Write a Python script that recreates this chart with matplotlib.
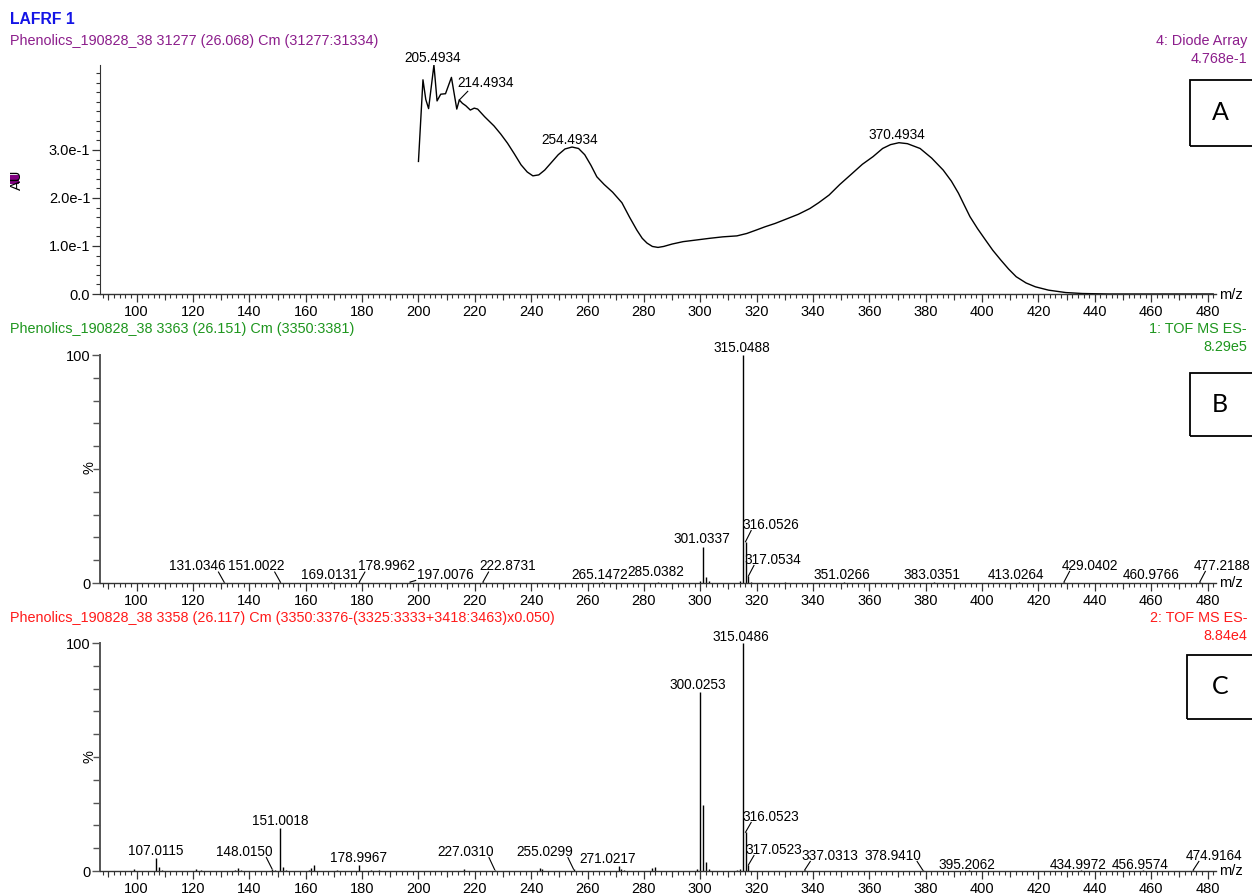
import matplotlib
matplotlib.use("Agg")
import matplotlib.pyplot as plt
from matplotlib.patches import Rectangle
from matplotlib.ticker import MultipleLocator, FixedLocator, FuncFormatter
import numpy as np

plt.rcParams['font.family'] = ['Liberation Sans', 'DejaVu Sans']

# ---------------- data ----------------
# Diode-array UV spectrum (nm, AU)
wavelength_nm = [
    200.0, 201.6, 202.6, 203.6, 205.4934, 206.6, 207.9, 209.6, 211.7, 213.6,
    214.4934, 215.6, 216.8, 218.4, 219.8, 221.0, 223.5, 226.8, 229.2, 231.6,
    234.0, 236.4, 238.6, 240.6, 242.7, 244.8, 247.2, 249.6, 252.0, 254.4934,
    256.8, 259.0, 261.2, 263.3, 265.9, 268.9, 272.2, 274.9, 277.5, 279.4,
    281.1, 283.0, 285.0, 287.0, 290.0, 293.9, 298.0, 303.4, 308.0, 313.0,
    316.5, 319.8, 323.0, 326.6, 330.5, 334.8, 338.9, 342.0, 345.7, 349.5,
    353.9, 357.5, 361.3, 364.7, 367.5, 370.4934, 373.5, 378.0, 382.1, 386.2,
    389.1, 391.6, 393.6, 395.7, 398.4, 401.2, 403.8, 406.6, 409.4, 412.1,
    415.6, 418.9, 423.6, 429.7, 435.6, 445.0, 482.0,
]
absorbance_au = [
    0.276, 0.446, 0.405, 0.386, 0.4768, 0.402, 0.416, 0.417, 0.451, 0.385,
    0.404, 0.397, 0.392, 0.383, 0.387, 0.385, 0.369, 0.350, 0.333, 0.314,
    0.292, 0.269, 0.254, 0.246, 0.248, 0.258, 0.274, 0.290, 0.302, 0.306,
    0.303, 0.290, 0.268, 0.244, 0.228, 0.212, 0.190, 0.160, 0.133, 0.116,
    0.106, 0.099, 0.097, 0.099, 0.104, 0.109, 0.112, 0.116, 0.119, 0.121,
    0.126, 0.133, 0.140, 0.147, 0.156, 0.166, 0.178, 0.190, 0.206, 0.228,
    0.251, 0.270, 0.286, 0.303, 0.311, 0.315, 0.313, 0.303, 0.283, 0.258,
    0.235, 0.210, 0.186, 0.161, 0.136, 0.1125, 0.091, 0.071, 0.052, 0.036,
    0.023, 0.015, 0.008, 0.003, 0.001, 0.0, 0.0,
]

# TOF MS ES- scan 3363 (m/z, relative %)
ms1_mz = [131.0346, 151.0022, 169.0131, 178.9962, 197.0076, 222.8731, 265.1472,
          285.0382, 300.03, 301.0337, 302.03, 303.03, 314.04, 315.0488, 316.0526,
          317.0534, 318.05, 330.0, 351.0266, 383.0351, 413.0264, 429.0402,
          460.9766, 477.2188]
ms1_pct = [0.4, 0.4, 0.3, 0.4, 0.3, 0.3, 0.3,
           0.6, 1.0, 15.6, 2.8, 0.8, 0.8, 100.0, 18.1,
           3.0, 0.5, 0.4, 0.3, 0.3, 0.3, 0.3,
           0.2, 0.3]

# TOF MS ES- scan 3358, background subtracted (m/z, relative %)
ms2_mz = [99.0, 107.0115, 108.0, 109.0, 121.0, 123.0, 135.0, 136.0, 137.0,
          148.0150, 149.0, 151.0018, 152.0, 153.0, 161.0, 162.0, 163.0, 171.0,
          178.9967, 183.0, 186.0, 216.0, 227.0310, 243.0, 244.0, 255.0299,
          271.0217, 272.0, 273.0, 283.0, 284.0, 299.0, 300.0253, 301.03, 302.03,
          303.03, 313.0, 314.0, 315.0486, 316.0523, 317.0523, 337.0313, 378.9410,
          395.2062, 434.9972, 456.9574, 474.9164]
ms2_pct = [1.0, 5.6, 1.9, 0.6, 1.0, 0.6, 0.6, 1.2, 0.6,
           1.0, 0.5, 18.7, 1.7, 0.4, 0.6, 1.5, 2.6, 0.4,
           2.6, 0.4, 0.3, 1.0, 0.6, 1.5, 0.8, 0.8,
           2.2, 0.9, 0.6, 1.2, 1.6, 0.8, 78.6, 28.9, 3.8,
           1.0, 0.5, 0.8, 100.0, 17.0, 2.6, 0.3, 0.3,
           0.3, 0.3, 0.3, 0.3]

x_ticks = list(range(100, 481, 20))

# label placement: (value, label centre x, label baseline y)
uv_label_pos = [(205.4934, 205.2, 0.484), (214.4934, 223.9, 0.430),
                (254.4934, 253.8, 0.313), (370.4934, 369.8, 0.3235)]
ms1_label_pos = [(131.0346, 121.4, 5.6), (151.0022, 142.4, 5.6), (169.0131, 168.3, 1.9),
                 (178.9962, 188.8, 5.6), (197.0076, 209.4, 1.9), (222.8731, 231.8, 5.6),
                 (265.1472, 264.4, 1.9), (285.0382, 284.3, 3.2), (301.0337, 300.6, 17.7),
                 (315.0488, 314.8, 101.4), (316.0526, 325.1, 23.8), (317.0534, 325.8, 8.5),
                 (351.0266, 350.2, 1.9), (383.0351, 382.1, 1.9), (413.0264, 412.0, 1.9),
                 (429.0402, 438.3, 5.9), (460.9766, 460.0, 1.9), (477.2188, 485.2, 5.9)]
ms2_label_pos = [(107.0115, 106.9, 7.1), (148.0150, 138.1, 6.7), (151.0018, 150.9, 20.3),
                 (178.9967, 178.6, 4.1), (227.0310, 216.9, 6.7), (255.0299, 244.9, 6.7),
                 (271.0217, 267.3, 3.6), (300.0253, 299.3, 80.0), (315.0486, 314.5, 101.0),
                 (316.0523, 325.1, 22.1), (317.0523, 326.2, 7.6), (337.0313, 346.0, 5.0),
                 (378.9410, 368.4, 5.0), (395.2062, 394.7, 1.0), (434.9972, 434.1, 1.0),
                 (456.9574, 456.1, 1.0), (474.9164, 482.4, 5.0)]

# ---------------- layout ----------------
W, H = 1252, 896
fig = plt.figure(figsize=(W / 100, H / 100), dpi=100)
fig.patch.set_facecolor('white')


def fx(x):
    return x / W


def fy(y):
    return 1 - y / H


XMIN, XMAX = 87, 483
AX_L, AX_R = 100, 1216
AXC = '#333333'
TICK_FS = 10.5
PEAK_FS = 9.8


def make_axes(top_px, bottom_px):
    return fig.add_axes([fx(AX_L), fy(bottom_px), (AX_R - AX_L) / W,
                         (bottom_px - top_px) / H])


def style_x(ax):
    ax.set_xlim(XMIN, XMAX)
    ax.xaxis.set_major_locator(FixedLocator(x_ticks))
    ax.xaxis.set_minor_locator(MultipleLocator(2))
    ax.tick_params(axis='x', which='major', length=6, width=0.9, direction='out',
                   labelsize=TICK_FS, pad=2, color=AXC)
    ax.tick_params(axis='x', which='minor', length=3, width=0.8, direction='out', color=AXC)
    sec = ax.secondary_xaxis('bottom')
    sec.set_xticks(np.arange(90, 480, 20))
    sec.tick_params(length=4.5, width=0.8, direction='out', labelbottom=False, color=AXC)
    sec.spines['bottom'].set_visible(False)
    for s in ('top', 'right'):
        ax.spines[s].set_visible(False)
    ax.spines['bottom'].set_color(AXC)
    ax.spines['bottom'].set_linewidth(1.0)
    ax.patch.set_alpha(0)


def add_labels(ax, xs, ys, positions, lead_dx, lead_gap, lead_min, fmt):
    for value, lx, ly in positions:
        h = ys[xs.index(value)]
        ax.text(lx, ly, fmt(value), ha='center', va='baseline', fontsize=PEAK_FS,
                color='black', clip_on=False)
        if abs(lx - value) > 4:
            sgn = 1 if lx > value else -1
            y0 = max(h, lead_min)
            ax.plot([value, value + sgn * lead_dx], [y0, ly - lead_gap],
                    color='black', lw=0.8, clip_on=False)


# ---- panel A: UV spectrum ----
axA = make_axes(65, 294)
axA.plot(wavelength_nm, absorbance_au, color='black', lw=1.0)
style_x(axA)
axA.set_ylim(0, 0.4768)
axA.yaxis.set_major_locator(FixedLocator([0.0, 0.1, 0.2, 0.3]))
axA.yaxis.set_minor_locator(MultipleLocator(0.02))
axA.yaxis.set_major_formatter(FuncFormatter(
    lambda v, p: '0.0' if v == 0 else f'{v * 10:.1f}e-1'))
axA.tick_params(axis='y', which='major', length=6, width=0.9, labelsize=TICK_FS,
                pad=1, color=AXC)
axA.tick_params(axis='y', which='minor', length=3, width=0.8, color=AXC)
axA.spines['left'].set_color(AXC)
add_labels(axA, wavelength_nm, absorbance_au, uv_label_pos, 3.0, 0.008, 0.0,
           lambda v: f'{v:.4f}')


# ---- panels B and C: mass spectra ----
def ms_panel(top_px, bottom_px, mz, pct, label_pos):
    ax = make_axes(top_px, bottom_px)
    ax.vlines(mz, 0, pct, color='black', lw=1.0)
    style_x(ax)
    ax.set_ylim(0, 100)
    ax.yaxis.set_major_locator(FixedLocator([0, 100]))
    ax.yaxis.set_minor_locator(MultipleLocator(10))
    ax.tick_params(axis='y', which='major', length=6, width=1.0, labelsize=TICK_FS,
                   pad=1, color='#555555')
    ax.tick_params(axis='y', which='minor', length=5, width=1.0, color='#555555')
    ax.spines['left'].set_color('#555555')
    ax.spines['left'].set_linewidth(1.4)
    add_labels(ax, mz, pct, label_pos, 2.0, 0.8, 0.4, lambda v: f'{v:.4f}')
    return ax


axB = ms_panel(355, 583, ms1_mz, ms1_pct, ms1_label_pos)
axC = ms_panel(643, 871, ms2_mz, ms2_pct, ms2_label_pos)

# ---------------- headers and annotations ----------------
PURPLE, GREEN, RED, BLUE = '#8C1E8C', '#1E961E', '#FF1A1A', '#1414E6'
TITLE_FS = 10.4

fig.text(fx(10), fy(19), 'LAFRF 1', color=BLUE, fontsize=11.3, fontweight='bold',
         ha='left', va='center')
headers = [
    (41, 'Phenolics_190828_38 31277 (26.068) Cm (31277:31334)', '4: Diode Array', '4.768e-1', PURPLE),
    (329, 'Phenolics_190828_38 3363 (26.151) Cm (3350:3381)', '1: TOF MS ES-', '8.29e5', GREEN),
    (618, 'Phenolics_190828_38 3358 (26.117) Cm (3350:3376-(3325:3333+3418:3463)x0.050)',
     '2: TOF MS ES-', '8.84e4', RED),
]
for y, left, right1, right2, col in headers:
    fig.text(fx(10), fy(y), left, color=col, fontsize=TITLE_FS, ha='left', va='center')
    fig.text(fx(1247), fy(y), right1, color=col, fontsize=TITLE_FS, ha='right', va='center')
    fig.text(fx(1247), fy(y + 18), right2, color=col, fontsize=TITLE_FS, ha='right', va='center')

for y in (295, 583, 871):
    fig.text(fx(1219), fy(y), 'm/z', fontsize=TICK_FS, ha='left', va='center')

for y in (468, 757):
    fig.text(fx(90), fy(y), '%', fontsize=TICK_FS, rotation=90, ha='center', va='center')

fig.text(fx(17), fy(180), 'AU', fontsize=TICK_FS, rotation=90, ha='center', va='center')
fig.add_artist(Rectangle((fx(10), fy(184)), 9 / W, 9 / H, transform=fig.transFigure,
                         facecolor='#800080', edgecolor='none'))

# panel letter boxes
for x0, top, bottom, letter in ((1190, 80, 146, 'A'), (1190, 373, 436, 'B'),
                                 (1187, 655, 719, 'C')):
    fig.add_artist(Rectangle((fx(x0), fy(bottom)), (1270 - x0) / W, (bottom - top) / H,
                             transform=fig.transFigure, fill=False, lw=1.3,
                             edgecolor='black'))
    fig.text(fx(1220), fy((top + bottom) / 2), letter, fontsize=18, ha='center',
             va='center', family=['Lato', 'DejaVu Sans'])

fig.savefig('out.png', dpi=100, facecolor='white')
